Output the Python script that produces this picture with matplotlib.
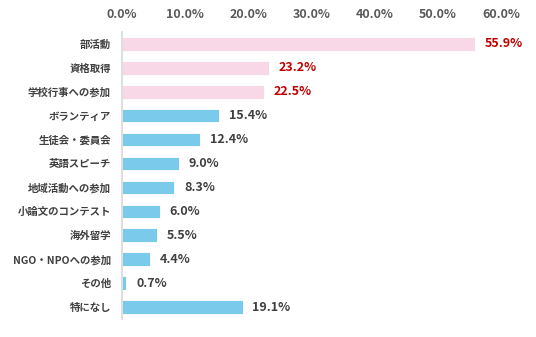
import matplotlib.pyplot as plt
import numpy as np

plt.rcParams['font.family'] = ['Noto Sans CJK JP', 'DejaVu Sans']

categories = ['部活動', '資格取得', '学校行事への参加', 'ボランティア', '生徒会・委員会',
              '英語スピーチ', '地域活動への参加', '小論文のコンテスト', '海外留学',
              'NGO・NPOへの参加', 'その他', '特になし']
values = [55.9, 23.2, 22.5, 15.4, 12.4, 9.0, 8.3, 6.0, 5.5, 4.4, 0.7, 19.1]
highlight = [True, True, True] + [False] * 9
xticks = [0, 10, 20, 30, 40, 50, 60]

pink = '#f8d8e6'
blue = '#7acbeb'

fig = plt.figure(figsize=(5.36, 3.37), dpi=100)
ax = fig.add_axes([0.2276, 0.0534, 0.707, 0.852])

y = np.arange(len(categories))
colors = [pink if h else blue for h in highlight]
ax.barh(y, values, height=0.57, color=colors, edgecolor='white', linewidth=0.6)

for yi, v, h in zip(y, values, highlight):
    ax.annotate(f'{v:.1f}%', (v, yi), xytext=(7, 0), textcoords='offset points',
                ha='left', va='center', fontsize=9, fontweight='bold',
                color='#c00000' if h else '#404040')

ax.set_ylim(len(categories) - 0.5, -0.5)
ax.set_xlim(0, 60)
ax.set_xticks(xticks)
ax.set_xticklabels([f'{t:.1f}%' for t in xticks])
ax.xaxis.tick_top()
ax.tick_params(axis='x', length=0, pad=8, labelsize=9, labelcolor='#595959')
ax.set_yticks(y)
ax.set_yticklabels(categories)
ax.tick_params(axis='y', length=0, pad=8, labelsize=7.5, labelcolor='#404040')
for lbl in ax.get_xticklabels() + ax.get_yticklabels():
    lbl.set_fontweight('bold')

for s in ['top', 'right', 'bottom']:
    ax.spines[s].set_visible(False)
ax.spines['left'].set_color('#d9d9d9')
ax.spines['left'].set_linewidth(1.2)

fig.savefig('out.png', dpi=100)
